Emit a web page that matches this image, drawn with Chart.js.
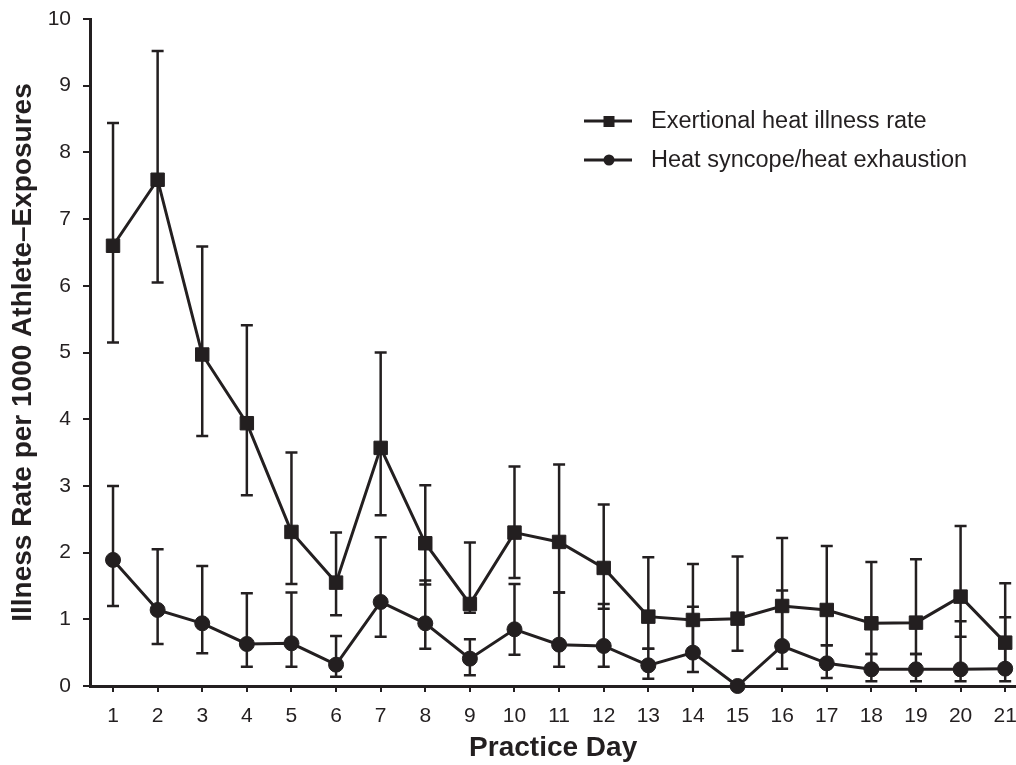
<!DOCTYPE html>
<html>
<head>
<meta charset="utf-8">
<script src="https://cdn.jsdelivr.net/npm/chart.js@4/dist/chart.umd.min.js"></script>
<style>
  html, body { margin: 0; padding: 0; background: #fff; overflow: hidden; }
  #wrap { width: 1040px; height: 765px; position: relative; overflow: hidden; }
  #c { display: block; }
</style>
</head>
<body>
<div id="wrap"><canvas id="c" width="1029" height="765"></canvas></div>
<script>
// ---- Data ----
const days = [1,2,3,4,5,6,7,8,9,10,11,12,13,14,15,16,17,18,19,20,21];

const exertionalRate  = [6.60,7.59,4.97,3.94,2.31,1.55,3.57,2.14,1.23,2.30,2.16,1.77,1.04,0.99,1.01,1.20,1.14,0.94,0.95,1.34,0.65];
const exertionalUpper = [8.44,9.52,6.59,5.41,3.50,2.30,5.00,3.01,2.15,3.29,3.32,2.72,1.93,1.83,1.94,2.22,2.10,1.86,1.90,2.40,1.54];
const exertionalLower = [5.15,6.05,3.75,2.86,1.53,1.06,2.56,1.52,1.10,1.62,1.40,1.16,0.56,0.55,0.53,0.65,0.61,0.48,0.48,0.74,0.30];

const syncopeRate  = [1.89,1.14,0.94,0.63,0.64,0.32,1.26,0.94,0.41,0.85,0.62,0.60,0.31,0.50,0.00,0.60,0.34,0.25,0.25,0.25,0.26];
const syncopeUpper = [3.00,2.05,1.80,1.39,1.40,0.75,2.23,1.58,0.70,1.53,1.40,1.23,0.56,1.19,null,1.43,0.61,0.48,0.48,0.97,1.03];
const syncopeLower = [1.20,0.63,0.49,0.29,0.29,0.14,0.74,0.56,0.16,0.47,0.29,0.29,0.11,0.21,null,0.26,0.12,0.07,0.07,0.07,0.07];

const yTicks = [0,1,2,3,4,5,6,7,8,9,10];
const seriesNames = ['Exertional heat illness rate', 'Heat syncope/heat exhaustion'];

// ---- Styling ----
const INK = '#231f20';
const FONT = '"Liberation Sans", Arial, Helvetica, sans-serif';

const toXY = (vals) => days.map((d, i) => ({ x: d, y: vals[i] }));

const errorBarPlugin = {
  id: 'errorBars',
  beforeDatasetsDraw(chart) {
    const { ctx, scales: { x, y } } = chart;
    ctx.save();
    ctx.strokeStyle = INK;
    ctx.lineWidth = 2.5;
    ctx.lineCap = 'butt';
    chart.data.datasets.forEach((ds) => {
      const up = ds.errUpper, lo = ds.errLower;
      days.forEach((d, i) => {
        if (up[i] == null || lo[i] == null) return;
        const px = x.getPixelForValue(d);
        const pUp = y.getPixelForValue(up[i]);
        const pLo = y.getPixelForValue(lo[i]);
        ctx.beginPath();
        ctx.moveTo(px, pUp); ctx.lineTo(px, pLo);
        ctx.moveTo(px - 6, pUp); ctx.lineTo(px + 6, pUp);
        ctx.moveTo(px - 6, pLo); ctx.lineTo(px + 6, pLo);
        ctx.stroke();
      });
    });
    ctx.restore();
  }
};

const legendPlugin = {
  id: 'customLegend',
  afterDraw(chart) {
    const { ctx } = chart;
    ctx.save();
    const rows = [
      { y: 121, style: 'rect', text: seriesNames[0] },
      { y: 160, style: 'circle', text: seriesNames[1] }
    ];
    rows.forEach((r) => {
      ctx.strokeStyle = INK;
      ctx.lineWidth = 3;
      ctx.beginPath();
      ctx.moveTo(584, r.y); ctx.lineTo(632, r.y);
      ctx.stroke();
      ctx.fillStyle = INK;
      if (r.style === 'rect') {
        ctx.fillRect(603.5, r.y - 5, 11, 11);
      } else {
        ctx.beginPath();
        ctx.arc(609, r.y, 5.5, 0, Math.PI * 2);
        ctx.fill();
      }
      ctx.font = '23.5px ' + FONT;
      ctx.textBaseline = 'middle';
      ctx.textAlign = 'left';
      ctx.fillText(r.text, 651, r.y + 1);
    });
    ctx.restore();
  }
};

const chart = new Chart(document.getElementById('c'), {
  type: 'line',
  data: {
    datasets: [
      {
        label: seriesNames[0],
        data: toXY(exertionalRate),
        errUpper: exertionalUpper,
        errLower: exertionalLower,
        borderColor: INK,
        backgroundColor: INK,
        borderWidth: 3,
        pointStyle: 'rect',
        pointRadius: 9.5,
        pointBorderWidth: 1,
        pointBackgroundColor: INK,
        pointBorderColor: INK,
        tension: 0,
        clip: false
      },
      {
        label: seriesNames[1],
        data: toXY(syncopeRate),
        errUpper: syncopeUpper,
        errLower: syncopeLower,
        borderColor: INK,
        backgroundColor: INK,
        borderWidth: 3,
        pointStyle: 'circle',
        pointRadius: 7.5,
        pointBorderWidth: 1,
        pointBackgroundColor: INK,
        pointBorderColor: INK,
        tension: 0,
        clip: false
      }
    ]
  },
  options: {
    responsive: false,
    animation: false,
    devicePixelRatio: 1,
    layout: { padding: { top: 19, right: 0, left: 0, bottom: 0 } },
    plugins: {
      legend: { display: false },
      tooltip: { enabled: false }
    },
    scales: {
      x: {
        type: 'linear',
        min: 0.484,
        max: 21.25,
        afterBuildTicks: (scale) => { scale.ticks = days.map(v => ({ value: v })); },
        afterFit: (scale) => { scale.height = 79; },
        border: { display: true, color: INK, width: 3 },
        grid: { display: true, drawOnChartArea: false, drawTicks: true, tickLength: 6, color: INK, lineWidth: 2 },
        ticks: { color: INK, font: { family: FONT, size: 21 }, padding: 12, maxRotation: 0, autoSkip: false },
        title: { display: true, text: 'Practice Day', color: INK, font: { family: FONT, size: 28, weight: 'bold' }, padding: { top: 0, bottom: 0 } }
      },
      y: {
        type: 'linear',
        min: 0,
        max: 10,
        afterBuildTicks: (scale) => { scale.ticks = yTicks.map(v => ({ value: v })); },
        afterFit: (scale) => { scale.width = 90; scale.paddingTop = 0; scale.paddingBottom = 0; },
        border: { display: true, color: INK, width: 3 },
        grid: { display: true, drawOnChartArea: false, drawTicks: true, tickLength: 7, color: INK, lineWidth: 2 },
        ticks: { color: INK, font: { family: FONT, size: 21 }, padding: 12 },
        title: { display: true, text: 'Illness Rate per 1000 Athlete\u2013Exposures', color: INK, font: { family: FONT, size: 28, weight: 'bold' }, padding: { top: 6, bottom: 0 } }
      }
    }
  },
  plugins: [errorBarPlugin, legendPlugin]
});

// The x axis reserves room for half of its last label; the canvas is a bit
// wider than the 1016px window (which clips it) so the plot reaches the edge.
for (let k = 0; k < 4; k++) {
  const diff = 1016 - chart.chartArea.right;
  if (Math.abs(diff) < 0.3) break;
  chart.resize(Math.round(chart.width + diff), 765);
}
</script>
</body>
</html>
